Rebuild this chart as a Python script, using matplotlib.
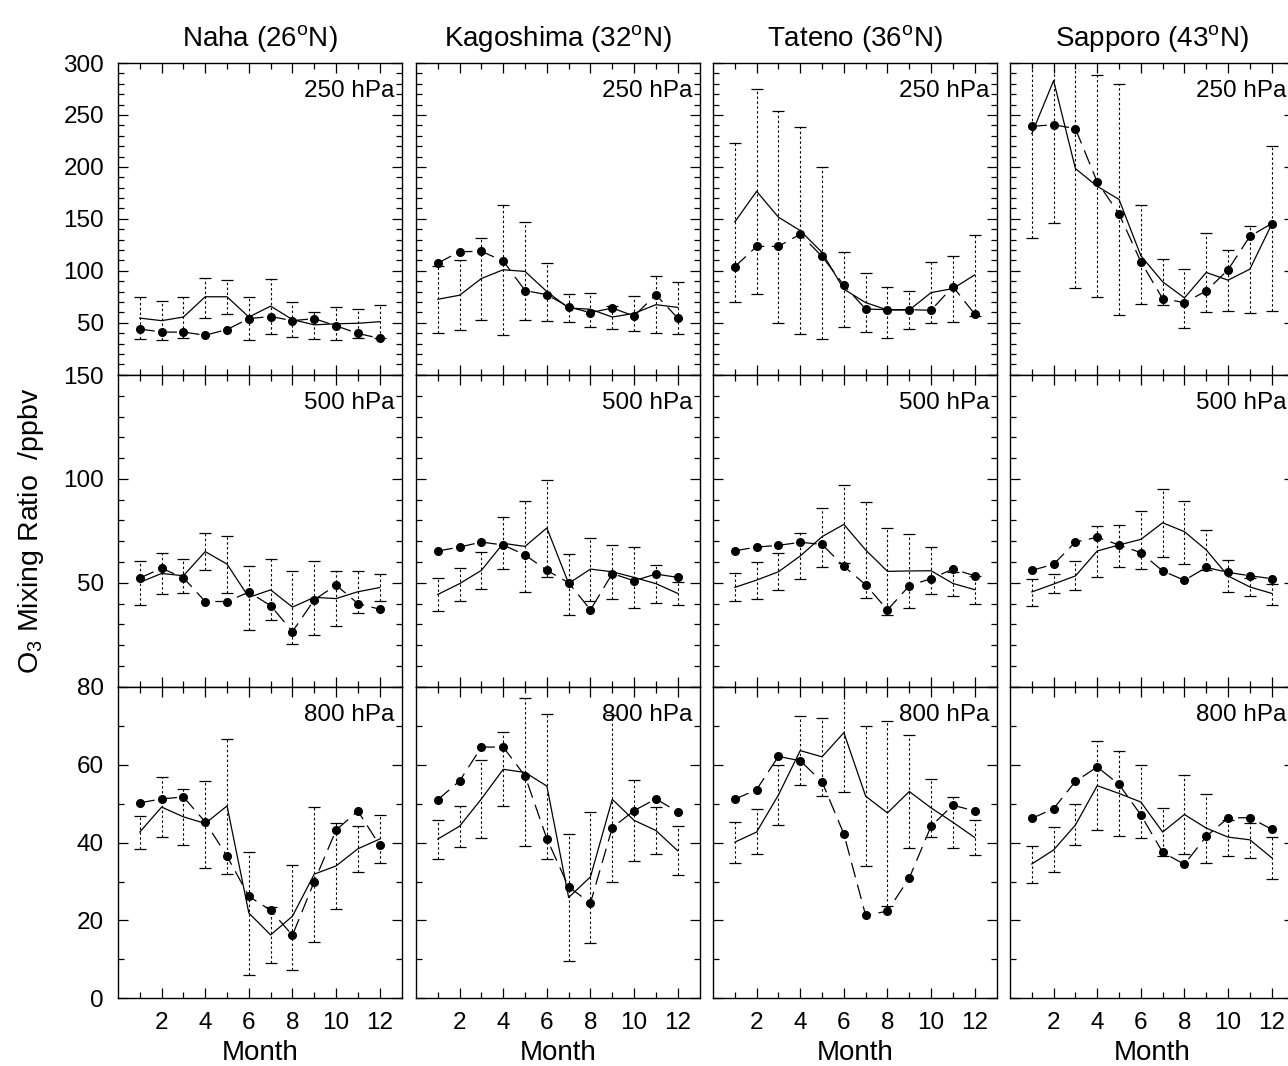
import matplotlib
matplotlib.use("Agg")
import matplotlib.pyplot as plt
from matplotlib.ticker import MultipleLocator, FixedLocator

plt.rcParams['font.family'] = ['Liberation Sans', 'DejaVu Sans']
plt.rcParams['mathtext.fontset'] = 'custom'
plt.rcParams['mathtext.rm'] = 'Liberation Sans'
plt.rcParams['mathtext.it'] = 'Liberation Sans:italic'

months = [1, 2, 3, 4, 5, 6, 7, 8, 9, 10, 11, 12]
stations = ["Naha", "Kagoshima", "Tateno", "Sapporo"]
latitudes = [26, 32, 36, 43]
levels = ["250 hPa", "500 hPa", "800 hPa"]

# ---- Naha ----
naha_250_solid = [54.5, 52, 55.5, 75, 75, 55.5, 66, 53, 48, 49, 49.5, 51]
naha_250_dots = [44, 41, 41, 38, 43.5, 54, 56, 52, 54, 47, 39.7, 35]
naha_250_hi = [74.5, 70.6, 74.5, 93, 91, 75, 92, 70, 60.6, 65, 63.5, 67]
naha_250_lo = [34.5, 33, 35.5, 55, 58, 33, 39, 36, 34.5, 33, 35.5, 35]

naha_500_solid = [50.2, 54.5, 53.4, 65, 59, 43, 46.6, 38.3, 43, 42.4, 45.7, 47.7]
naha_500_dots = [52.3, 57, 52.4, 41, 41, 45.5, 39, 26.5, 41.8, 48.9, 40, 37.3]
naha_500_hi = [60.3, 64.3, 61.6, 74, 72.5, 58, 61.4, 55.5, 60.6, 55.5, 55.5, 54]
naha_500_lo = [39.4, 44.5, 45, 56, 45, 27.3, 32, 20.6, 25, 29.4, 35.4, 41.3]

naha_800_solid = [42.7, 49.1, 46.6, 44.9, 49.4, 21.9, 16.3, 21.1, 31.9, 34, 38.4, 40.9]
naha_800_dots = [50.2, 51.2, 51.7, 45.3, 36.5, 26.2, 22.6, 16.2, 30, 43.2, 48.1, 39.3]
naha_800_hi = [46.9, 56.8, 53.8, 55.8, 66.6, 37.7, 23.4, 34.3, 49.2, 44.9, 44.3, 47.1]
naha_800_lo = [38.4, 41.4, 39.3, 33.4, 32, 5.9, 9.1, 7.2, 14.4, 22.9, 32.4, 34.7]

# ---- Kagoshima ----
kago_250_solid = [72.6, 76.5, 92.6, 101, 99.4, 80, 64.2, 63, 55.5, 59, 67.4, 64.8]
kago_250_dots = [107.4, 118.4, 118.7, 109.4, 81, 77, 65.2, 59.7, 64.2, 56.5, 77, 54.5]
kago_250_hi = [104.8, 110, 132, 163, 146.5, 107.7, 77.7, 78.7, 66, 75.8, 95, 89.7]
kago_250_lo = [39.7, 43, 52.3, 38, 52.3, 51.6, 50.6, 46, 44, 41.6, 39.7, 39]

kago_500_solid = [44.4, 49.6, 56, 69, 67.5, 76.4, 49.7, 56.6, 55.3, 52.6, 49.6, 44.9]
kago_500_dots = [65.3, 67.2, 69.6, 68.2, 63.4, 56, 50, 37, 54.4, 51, 54.2, 52.6]
kago_500_hi = [52.5, 57.3, 65, 81.5, 89.3, 99.3, 63.7, 71.7, 68.2, 67.4, 58.7, 50.2]
kago_500_lo = [36.6, 41.4, 47, 56.6, 45.4, 53, 34.3, 41.4, 42.3, 37.7, 40.1, 39.5]

kago_800_solid = [40.9, 44.2, 51.2, 58.8, 58, 54.5, 25.9, 31.2, 51.1, 45.7, 43.1, 37.9]
kago_800_dots = [51, 55.8, 64.5, 64.5, 57.1, 41, 28.6, 24.5, 43.8, 48.2, 51.2, 47.9]
kago_800_hi = [45.8, 49.3, 61.2, 68.4, 77, 73, 42.3, 47.8, 72.7, 56, 49.1, 44.2]
kago_800_lo = [35.8, 38.9, 41.2, 49.3, 39, 35.7, 9.5, 14.3, 30, 35.2, 37.1, 31.7]

# ---- Tateno ----
tate_250_solid = [147, 176.5, 151.6, 138.7, 117.7, 82.3, 69.4, 62.3, 62.3, 79, 82.9, 96]
tate_250_dots = [103.9, 123.5, 123.5, 135.2, 113.9, 86.1, 63.2, 62.6, 62.6, 62, 84.8, 58.4]
tate_250_hi = [222.6, 274.8, 254, 238.7, 200, 117.7, 98, 84.5, 80.6, 108, 113.9, 134.8]
tate_250_lo = [70.3, 77.7, 49.4, 38.7, 33.9, 45.5, 41, 35.8, 43.9, 50, 51, 56.5]

tate_500_solid = [47.8, 51.3, 55.3, 62.9, 72.2, 78.1, 65.8, 55.5, 55.7, 55.8, 49.7, 46.7]
tate_500_dots = [65.4, 67.2, 68, 69.5, 68.5, 57.9, 49.1, 36.9, 48.6, 52, 56.6, 53.4]
tate_500_hi = [54.5, 59.8, 64.2, 74.1, 86.1, 96.9, 88.9, 76.2, 73.6, 67, 55, 53.3]
tate_500_lo = [41.2, 42.2, 46.5, 51.8, 57.7, 59.4, 42.5, 34.5, 37.9, 44.4, 43.6, 40]

tate_800_solid = [40.1, 42.7, 52.2, 63.6, 62, 68.2, 51.9, 47.6, 53.1, 48.9, 45.2, 41.3]
tate_800_dots = [51.1, 53.6, 62.1, 61, 55.6, 42.2, 21.3, 22.4, 30.9, 44.2, 49.6, 48.1]
tate_800_hi = [45.3, 48.5, 59.9, 72.5, 71.9, 83.5, 69.8, 71.3, 67.5, 56.2, 51.8, 45.7]
tate_800_lo = [34.7, 37, 44.5, 54.8, 52, 52.9, 34.1, 23.7, 38.7, 41.5, 38.6, 36.7]

# ---- Sapporo ----
sapp_250_solid = [232, 283, 198.4, 181.3, 168.7, 114.5, 89.4, 73.9, 98.4, 91, 101.6, 144.8]
sapp_250_dots = [239, 240.6, 236.8, 185.5, 154.8, 108.7, 73.2, 69.4, 80.6, 101, 133.2, 145.5]
sapp_250_hi = [332, 420, 313, 288, 280, 163, 111, 102, 136, 120, 143, 220]
sapp_250_lo = [132, 145.8, 83.5, 74.8, 57.4, 68.4, 67, 44.5, 60.3, 61.3, 59, 61]

sapp_500_solid = [45.6, 49.4, 53.3, 65.3, 68.2, 70.9, 78.9, 74.6, 65.8, 53.3, 48, 44.9]
sapp_500_dots = [56, 58.9, 69.6, 71.9, 68.2, 64.5, 55.7, 51.2, 57.4, 55, 53.4, 52]
sapp_500_hi = [52, 54, 60.5, 77.5, 78, 84.5, 95.3, 89.3, 75.2, 61.1, 52.1, 49.6]
sapp_500_lo = [38.8, 44.9, 46.4, 52.6, 57.4, 56.8, 62.6, 59, 56, 45.6, 43.8, 39.5]

sapp_800_solid = [34.5, 38.1, 44.5, 54.6, 52.6, 50.4, 42.7, 47.2, 43.7, 41.4, 40.7, 36.1]
sapp_800_dots = [46.2, 48.7, 55.7, 59.4, 54.9, 47.1, 37.5, 34.4, 41.6, 46.3, 46.4, 43.4]
sapp_800_hi = [39.2, 43.9, 49.8, 66, 63.5, 59.8, 48.9, 57.4, 52.5, 45.7, 45.1, 41.3]
sapp_800_lo = [29.7, 32.5, 39.4, 43.1, 41.7, 41.1, 36.5, 37, 34.8, 36.6, 36.1, 30.7]

# y-axis settings per level row
row_ylim = [300, 150, 80]
row_major = [50, 50, 20]
row_ticklabels = [[50, 100, 150, 200, 250, 300], [50, 100, 150], [0, 20, 40, 60, 80]]

table = [
    [(naha_250_solid, naha_250_dots, naha_250_lo, naha_250_hi),
     (kago_250_solid, kago_250_dots, kago_250_lo, kago_250_hi),
     (tate_250_solid, tate_250_dots, tate_250_lo, tate_250_hi),
     (sapp_250_solid, sapp_250_dots, sapp_250_lo, sapp_250_hi)],
    [(naha_500_solid, naha_500_dots, naha_500_lo, naha_500_hi),
     (kago_500_solid, kago_500_dots, kago_500_lo, kago_500_hi),
     (tate_500_solid, tate_500_dots, tate_500_lo, tate_500_hi),
     (sapp_500_solid, sapp_500_dots, sapp_500_lo, sapp_500_hi)],
    [(naha_800_solid, naha_800_dots, naha_800_lo, naha_800_hi),
     (kago_800_solid, kago_800_dots, kago_800_lo, kago_800_hi),
     (tate_800_solid, tate_800_dots, tate_800_lo, tate_800_hi),
     (sapp_800_solid, sapp_800_dots, sapp_800_lo, sapp_800_hi)],
]

W, H = 1288, 1066
fig = plt.figure(figsize=(W / 100, H / 100), dpi=100)

col_left_px = [118, 416, 713, 1010]
ax_w_px = 283.5
row_top_px = [63, 375, 686.7]
ax_h_px = 311.7

for r in range(3):
    for c in range(4):
        left = col_left_px[c] / W
        bottom = 1 - (row_top_px[r] + ax_h_px) / H
        ax = fig.add_axes([left, bottom, ax_w_px / W, ax_h_px / H])
        solid, dots, lo, hi = table[r][c]

        ax.vlines(months, lo, hi, colors='black', linewidth=0.8,
                  linestyles=(0, (2.2, 2.2)), zorder=2)
        ax.plot(months, lo, linestyle='none', marker='_', markersize=9,
                markeredgewidth=0.9, color='black', zorder=2)
        ax.plot(months, hi, linestyle='none', marker='_', markersize=9,
                markeredgewidth=0.9, color='black', zorder=2)
        ax.plot(months, solid, color='black', linewidth=0.9, zorder=3)
        ax.plot(months, dots, color='black', linewidth=0.9,
                dashes=(12, 6), zorder=3)
        ax.plot(months, dots, linestyle='none', marker='o', markersize=5.5,
                color='black', zorder=4)

        ax.set_xlim(0, 13)
        ax.set_ylim(0, row_ylim[r])
        ax.xaxis.set_major_locator(FixedLocator([2, 4, 6, 8, 10, 12]))
        ax.xaxis.set_minor_locator(FixedLocator([1, 3, 5, 7, 9, 11]))
        ax.yaxis.set_major_locator(MultipleLocator(row_major[r]))
        ax.yaxis.set_minor_locator(MultipleLocator(10))
        ax.tick_params(which='both', direction='in', top=True, right=True,
                       width=0.9, color='black')
        ax.tick_params(which='major', length=7)
        ax.tick_params(which='minor', length=4)
        ax.tick_params(axis='both', labelsize=17.5, pad=10)
        for sp in ax.spines.values():
            sp.set_linewidth(1.0)

        if c == 0:
            ax.set_yticks(row_ticklabels[r])
            ax.yaxis.set_minor_locator(MultipleLocator(10))
        else:
            ax.tick_params(axis='y', labelleft=False)
        if r == 2:
            ax.set_xticklabels([str(m) for m in [2, 4, 6, 8, 10, 12]])
            ax.set_xlabel("Month", fontsize=20, labelpad=4)
        else:
            ax.tick_params(axis='x', labelbottom=False)
        if r == 0:
            ax.set_title(stations[c] + " (" + str(latitudes[c]) + r"$^{\mathrm{o}}$N)",
                         fontsize=20, pad=12)
        ax.text(0.975, 0.945, levels[r], transform=ax.transAxes,
                ha='right', va='top', fontsize=17.5)

fig.text(0.024, 1 - 530.5 / H, r"O$_3$ Mixing Ratio  /ppbv", rotation=90,
         ha='center', va='center', fontsize=20.5)

fig.savefig("out.png", dpi=100)
